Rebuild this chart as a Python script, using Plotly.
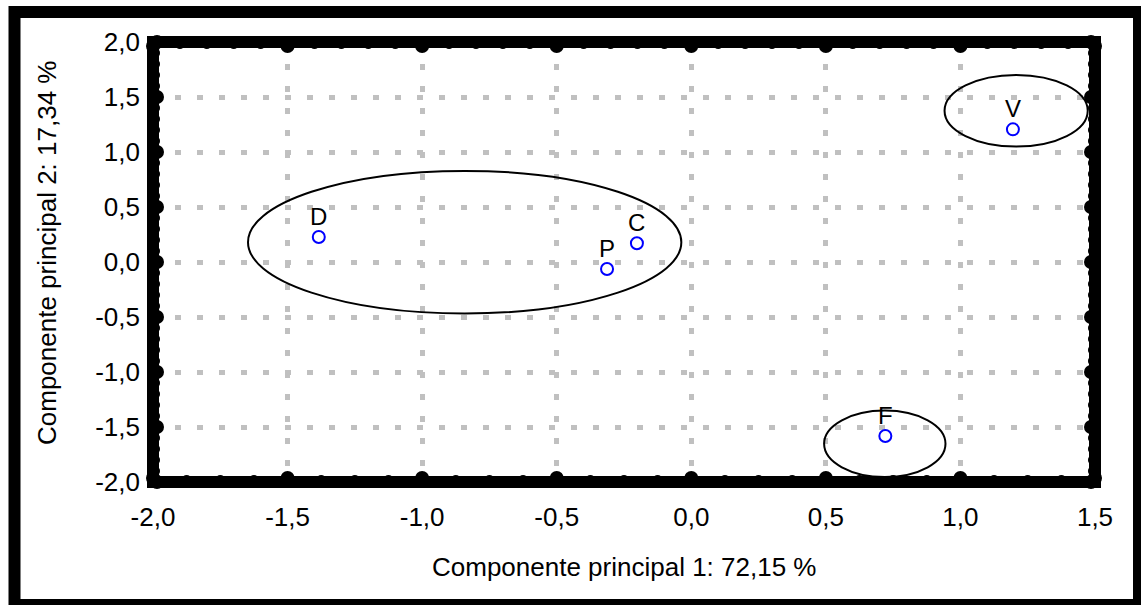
import numpy as np
import plotly.graph_objects as go

# ---- data ----
labels = ["D", "P", "C", "V", "F"]
pc1 = [-1.384, -0.313, -0.202, 1.195, 0.721]
pc2 = [0.227, -0.064, 0.170, 1.206, -1.582]

# ellipses (center x, center y, half-width, half-height)
ell_cx = [-0.842, 1.207, 0.719]
ell_cy = [0.180, 1.375, -1.653]
ell_ax = [0.805, 0.266, 0.2255]
ell_ay = [0.648, 0.326, 0.302]

x_ticks = [-2.0, -1.5, -1.0, -0.5, 0.0, 0.5, 1.0, 1.5]
x_ticktext = ["-2,0", "-1,5", "-1,0", "-0,5", "0,0", "0,5", "1,0", "1,5"]
y_ticks = [2.0, 1.5, 1.0, 0.5, 0.0, -0.5, -1.0, -1.5, -2.0]
y_ticktext = ["2,0", "1,5", "1,0", "0,5", "0,0", "-0,5", "-1,0", "-1,5", "-2,0"]

x_title = "Componente principal 1: 72,15 %"
y_title = "Componente principal 2: 17,34 %"

# ---- geometry ----
W, H = 1141, 605
ML, MR, MT, MB = 153, 46, 42, 123
XMIN, XMAX, YMIN, YMAX = -2.0, 1.5, -2.0, 2.0
pw, ph = W - ML - MR, H - MT - MB
px_x = pw / (XMAX - XMIN)
px_y = ph / (YMAX - YMIN)

FONT = "Liberation Sans, Arial, sans-serif"

fig = go.Figure()

# frame tick dots (minor + major)
top_minor = np.round(np.arange(XMIN, XMAX + 1e-9, 0.1), 4)
bot_minor = np.round(np.arange(XMIN, XMAX + 1e-9, 0.125), 4)
side_minor = np.round(np.arange(YMIN, YMAX + 1e-9, 0.1), 4)

def dots(xs, ys, size):
    fig.add_trace(go.Scatter(x=xs, y=ys, mode="markers", cliponaxis=False,
                             marker=dict(size=size, color="black", line=dict(width=0)),
                             hoverinfo="skip", showlegend=False))

dmin_x, dmin_y = 3 / px_x, 3 / px_y
dmaj_x, dmaj_y = 4 / px_x, 4 / px_y
# minor
dots(list(top_minor), [YMAX - dmin_y] * len(top_minor), 8)
dots(list(bot_minor), [YMIN + dmin_y] * len(bot_minor), 8)
dots([XMIN + dmin_x] * len(side_minor), list(side_minor), 8)
dots([XMAX - dmin_x] * len(side_minor), list(side_minor), 8)
# major
dots(x_ticks, [YMAX - dmaj_y] * len(x_ticks), 14)
dots(x_ticks, [YMIN + dmaj_y] * len(x_ticks), 14)
dots([XMIN + dmaj_x] * len(y_ticks), y_ticks, 14)
dots([XMAX - dmaj_x] * len(y_ticks), y_ticks, 14)

# points
fig.add_trace(go.Scatter(x=pc1, y=pc2, mode="markers", showlegend=False,
                         marker=dict(symbol="circle-open", size=12, color="#0000ff",
                                     line=dict(width=2, color="#0000ff"))))

shapes = []
for cx, cy, a, b in zip(ell_cx, ell_cy, ell_ax, ell_ay):
    shapes.append(dict(type="circle", xref="x", yref="y", x0=cx - a, x1=cx + a,
                       y0=cy - b, y1=cy + b, line=dict(color="black", width=2),
                       layer="above"))

# plot frame
shapes.append(dict(type="rect", xref="paper", yref="paper", x0=0, x1=1, y0=0, y1=1,
                   line=dict(color="black", width=12), layer="above"))

# outer border (pixel positions converted to paper coords)
def pxp(px):
    return (px - ML) / pw
def pyp(py):
    return (H - MB - py) / ph
shapes.append(dict(type="rect", xref="paper", yref="paper",
                   x0=pxp(14.5), x1=pxp(1139), y0=pyp(605), y1=pyp(12),
                   line=dict(color="black", width=12), layer="above"))

annotations = []
for lab, x, y in zip(labels, pc1, pc2):
    annotations.append(dict(x=x, y=y, text=lab, showarrow=False, yshift=21,
                            xanchor="center", yanchor="middle",
                            font=dict(family=FONT, size=24, color="black")))
annotations.append(dict(xref="paper", yref="paper", x=0.5, y=pyp(567), text=x_title,
                        showarrow=False, xanchor="center", yanchor="middle",
                        font=dict(family=FONT, size=26, color="black")))
annotations.append(dict(xref="paper", yref="paper", x=pxp(47), y=pyp(253), text=y_title,
                        showarrow=False, xanchor="center", yanchor="middle", textangle=-90,
                        font=dict(family=FONT, size=26, color="black")))

axis_common = dict(showgrid=True, gridcolor="#c0c0c0", gridwidth=5, griddash="6px,16px",
                   zeroline=False, showline=False, ticks="",
                   tickfont=dict(family=FONT, size=26, color="black"), fixedrange=True)

fig.update_layout(
    width=W, height=H, autosize=False,
    margin=dict(l=ML, r=MR, t=MT, b=MB, pad=0),
    paper_bgcolor="white", plot_bgcolor="white",
    xaxis=dict(range=[XMIN, XMAX], tickvals=x_ticks, ticktext=x_ticktext,
               ticklabelstandoff=17, **axis_common),
    yaxis=dict(range=[YMIN, YMAX], tickvals=y_ticks, ticktext=y_ticktext,
               ticklabelstandoff=12, **axis_common),
    shapes=shapes, annotations=annotations, showlegend=False,
)

fig.write_html("out.html")
